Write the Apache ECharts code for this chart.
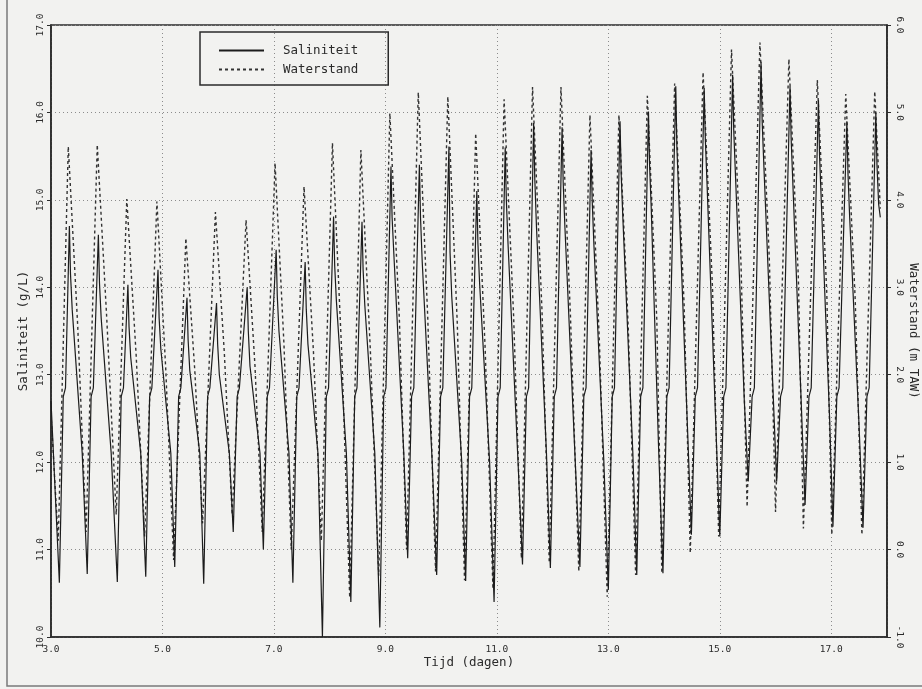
<!DOCTYPE html>
<html>
<head>
<meta charset="utf-8">
<title>Saliniteit en waterstand</title>
<script src="https://cdn.jsdelivr.net/npm/echarts@6/dist/echarts.min.js"></script>
<style>
  html, body { margin: 0; padding: 0; background: #f2f2f0; }
  #chart { width: 922px; height: 689px; }
</style>
</head>
<body>
<div id="chart"></div>
<script>
// Tijdas (dagen) en meetreeksen
const xTicks = [3.0, 5.0, 7.0, 9.0, 11.0, 13.0, 15.0, 17.0];
const salTicks = [10.0, 11.0, 12.0, 13.0, 14.0, 15.0, 16.0, 17.0];
const waterTicks = [-1.0, 0.0, 1.0, 2.0, 3.0, 4.0, 5.0, 6.0];

// Waterstand (m TAW): laagwater, hoogwater, halverwege de eb
const waterDays = [3.00,
  3.13, 3.31, 3.48,   3.63, 3.83, 4.00,   4.17, 4.36, 4.53,   4.68, 4.90, 5.06,
  5.20, 5.42, 5.58,   5.72, 5.95, 6.11,   6.25, 6.50, 6.66,   6.79, 7.02, 7.18,
  7.31, 7.54, 7.71,   7.85, 8.05, 8.22,   8.36, 8.56, 8.73,   8.88, 9.08, 9.25,
  9.38, 9.59, 9.76,   9.90, 10.12, 10.29, 10.42, 10.62, 10.79, 10.93, 11.13, 11.30,
  11.44, 11.64, 11.81, 11.94, 12.15, 12.32, 12.47, 12.67, 12.84, 12.98, 13.19, 13.36,
  13.49, 13.70, 13.87, 13.96, 14.19, 14.36, 14.47, 14.70, 14.87, 14.98, 15.21, 15.38,
  15.49, 15.72, 15.89, 16.00, 16.24, 16.41, 16.50, 16.75, 16.92, 17.01, 17.26, 17.43,
  17.55, 17.78, 17.88];
const waterLevel = [1.55,
  0.10, 4.61, 2.55,   0.20, 4.63, 2.65,   0.40, 4.01, 2.20,   0.15, 3.98, 2.05,
  -0.12, 3.56, 2.05,  0.30, 3.86, 2.25,   0.40, 3.77, 2.10,   0.20, 4.42, 2.35,
  0.00, 4.15, 2.25,   0.10, 4.65, 2.20,   -0.55, 4.57, 2.28,  -0.30, 4.99, 2.65,
  0.00, 5.23, 2.65,   -0.25, 5.18, 2.58,  -0.35, 4.76, 2.30,  -0.45, 5.15, 2.68,
  -0.10, 5.29, 2.73,  -0.15, 5.29, 2.68,  -0.25, 4.97, 2.37,  -0.54, 4.97, 2.50,
  -0.29, 5.19, 2.62,  -0.27, 5.33, 2.80,  -0.04, 5.46, 2.98,  0.15, 5.72, 3.28,
  0.49, 5.80, 3.30,   0.43, 5.61, 3.10,   0.24, 5.37, 2.93,   0.17, 5.21, 2.85,
  0.17, 5.24, 3.90];

// Saliniteit (g/L): per getij laagste waarde, knik bij vloed, top, snelle daling, afname
const salDays = [3.00,
  3.15, 3.22, 3.26, 3.33, 3.35, 3.38, 3.56,
  3.65, 3.72, 3.76, 3.85, 3.87, 3.90, 4.08,
  4.19, 4.26, 4.30, 4.38, 4.40, 4.43, 4.61,
  4.70, 4.77, 4.81, 4.92, 4.94, 4.97, 5.15,
  5.22, 5.29, 5.33, 5.44, 5.46, 5.49, 5.67,
  5.74, 5.81, 5.85, 5.97, 5.99, 6.02, 6.20,
  6.27, 6.34, 6.38, 6.52, 6.54, 6.57, 6.75,
  6.81, 6.88, 6.92, 7.04, 7.06, 7.09, 7.27,
  7.34, 7.41, 7.45, 7.56, 7.58, 7.61, 7.79,
  7.87, 7.94, 7.98, 8.07, 8.09, 8.12, 8.30,
  8.38, 8.45, 8.49, 8.58, 8.60, 8.63, 8.81,
  8.90, 8.97, 9.01, 9.10, 9.12, 9.15, 9.33,
  9.40, 9.47, 9.51, 9.61, 9.63, 9.66, 9.84,
  9.92, 9.99, 10.03, 10.14, 10.16, 10.19, 10.37,
  10.44, 10.51, 10.55, 10.64, 10.66, 10.69, 10.87,
  10.95, 11.02, 11.06, 11.15, 11.17, 11.20, 11.38,
  11.46, 11.53, 11.57, 11.66, 11.68, 11.71, 11.89,
  11.96, 12.03, 12.07, 12.17, 12.19, 12.22, 12.40,
  12.49, 12.56, 12.60, 12.69, 12.71, 12.74, 12.92,
  13.00, 13.07, 13.11, 13.21, 13.23, 13.26, 13.44,
  13.51, 13.58, 13.62, 13.72, 13.74, 13.77, 13.90,
  13.98, 14.05, 14.09, 14.21, 14.23, 14.26, 14.42,
  14.49, 14.56, 14.60, 14.72, 14.74, 14.77, 14.93,
  15.00, 15.07, 15.11, 15.23, 15.25, 15.28, 15.44,
  15.51, 15.58, 15.62, 15.74, 15.76, 15.79, 15.95,
  16.02, 16.09, 16.13, 16.26, 16.28, 16.31, 16.46,
  16.53, 16.60, 16.64, 16.77, 16.79, 16.82, 16.97,
  17.03, 17.10, 17.14, 17.28, 17.30, 17.33, 17.50,
  17.57, 17.64, 17.68, 17.80, 17.82, 17.85, 17.88];
const salinity = [12.70,
  10.62, 12.75, 12.85, 14.70, 14.15, 13.75, 12.10,
  10.72, 12.75, 12.85, 14.60, 14.05, 13.65, 12.10,
  10.63, 12.75, 12.85, 14.03, 13.55, 13.20, 12.10,
  10.69, 12.75, 12.85, 14.20, 13.65, 13.30, 12.10,
  10.80, 12.75, 12.85, 13.88, 13.40, 13.05, 12.10,
  10.61, 12.75, 12.85, 13.82, 13.35, 13.00, 12.10,
  11.20, 12.75, 12.85, 14.00, 13.50, 13.10, 12.10,
  11.00, 12.75, 12.85, 14.43, 13.90, 13.50, 12.10,
  10.62, 12.75, 12.85, 14.29, 13.75, 13.35, 12.10,
  10.00, 12.75, 12.85, 14.81, 14.25, 13.85, 12.10,
  10.40, 12.75, 12.85, 14.75, 14.20, 13.80, 12.10,
  10.11, 12.75, 12.85, 15.38, 14.80, 14.40, 12.10,
  10.90, 12.75, 12.85, 15.40, 14.80, 14.30, 12.00,
  10.71, 12.75, 12.85, 15.61, 14.40, 13.90, 12.00,
  10.64, 12.75, 12.85, 15.10, 14.50, 14.05, 12.00,
  10.40, 12.75, 12.85, 15.60, 15.00, 14.50, 12.00,
  10.83, 12.75, 12.85, 15.88, 15.25, 14.70, 12.10,
  10.79, 12.75, 12.85, 15.83, 15.20, 14.70, 12.10,
  10.80, 12.75, 12.85, 15.57, 15.00, 14.50, 12.00,
  10.54, 12.75, 12.85, 15.90, 15.30, 14.80, 12.10,
  10.71, 12.75, 12.85, 16.01, 15.40, 14.90, 12.20,
  10.73, 12.75, 12.85, 16.30, 15.60, 15.10, 12.40,
  11.17, 12.75, 12.85, 16.28, 15.70, 15.20, 12.40,
  11.15, 12.75, 12.85, 16.43, 15.80, 15.30, 12.70,
  11.78, 12.75, 12.85, 16.58, 15.90, 15.40, 12.90,
  11.78, 12.75, 12.85, 16.30, 15.70, 15.20, 12.70,
  11.51, 12.75, 12.85, 16.14, 15.50, 15.00, 12.50,
  11.26, 12.75, 12.85, 15.90, 15.30, 14.80, 12.40,
  11.25, 12.75, 12.85, 16.00, 15.40, 14.95, 14.80];

const FONT = 'DejaVu Sans Mono';
const INK = '#2b2b2b';
const GRIDCOL = '#8c8c8c';

const chart = echarts.init(document.getElementById('chart'), null, { renderer: 'canvas' });

const fmt = v => v.toFixed(1);

chart.setOption({
  backgroundColor: '#f2f2f0',
  animation: false,
  grid: {
    left: 51, right: 35, top: 25, bottom: 52,
    outerBoundsMode: 'none',
    show: true, borderColor: INK, borderWidth: 1.6, backgroundColor: 'transparent'
  },
  legend: {
    left: 200, top: 32,
    orient: 'vertical',
    padding: [12, 30, 9, 18],
    itemWidth: 45, itemHeight: 10, itemGap: 6,
    borderColor: INK, borderWidth: 1.5,
    itemStyle: { opacity: 0 },
    textStyle: { fontFamily: FONT, fontSize: 12.5, color: INK, padding: [0, 0, 0, 14] },
    data: ['Saliniteit', 'Waterstand']
  },
  xAxis: {
    type: 'value',
    min: xTicks[0], max: 18, interval: 2,
    name: 'Tijd (dagen)', nameLocation: 'middle', nameGap: 19, nameMoveOverlap: false,
    nameTextStyle: { fontFamily: FONT, fontSize: 12.5, color: INK },
    axisLine: { show: true, onZero: false, lineStyle: { color: INK, width: 1.6 } },
    axisTick: { show: false },
    axisLabel: { fontFamily: FONT, fontSize: 9.5, color: INK, margin: 8, showMaxLabel: false,
                 formatter: v => xTicks.includes(v) ? fmt(v) : '' },
    splitLine: { show: true, lineStyle: { color: GRIDCOL, type: [1, 3], width: 1 } }
  },
  yAxis: [
    {
      type: 'value', position: 'left',
      min: salTicks[0], max: salTicks[salTicks.length - 1], interval: 1,
      name: 'Saliniteit (g/L)', nameLocation: 'middle', nameGap: 21, nameRotate: 90,
      nameMoveOverlap: false,
      nameTextStyle: { fontFamily: FONT, fontSize: 12.5, color: INK },
      axisLine: { show: true, onZero: false, lineStyle: { color: INK, width: 1.6 } },
      axisTick: { show: true, inside: false, length: 4, lineStyle: { color: INK } },
      axisLabel: { fontFamily: FONT, fontSize: 9.5, color: INK, rotate: 90, margin: 5, formatter: fmt },
      splitLine: { show: true, lineStyle: { color: GRIDCOL, type: [1, 3], width: 1 } }
    },
    {
      type: 'value', position: 'right',
      min: waterTicks[0], max: waterTicks[waterTicks.length - 1], interval: 1,
      name: 'Waterstand (m TAW)', nameLocation: 'middle', nameGap: 20, nameRotate: -90,
      nameMoveOverlap: false,
      nameTextStyle: { fontFamily: FONT, fontSize: 12.5, color: INK },
      axisLine: { show: true, onZero: false, lineStyle: { color: INK, width: 1.6 } },
      axisTick: { show: true, inside: false, length: 4, lineStyle: { color: INK } },
      axisLabel: { fontFamily: FONT, fontSize: 9.5, color: INK, rotate: -90, margin: 7, formatter: fmt },
      splitLine: { show: false }
    }
  ],
  series: [
    {
      name: 'Saliniteit', type: 'line', yAxisIndex: 0,
      symbol: 'none', smooth: false,
      lineStyle: { color: '#1c1c1c', width: 1.2 },
      itemStyle: { color: '#1c1c1c' },
      data: salDays.map((d, i) => [d, salinity[i]]),
      z: 3
    },
    {
      name: 'Waterstand', type: 'line', yAxisIndex: 1,
      symbol: 'none', smooth: false,
      lineStyle: { color: '#333333', width: 1.4, type: [3, 3] },
      itemStyle: { color: '#333333' },
      data: waterDays.map((d, i) => [d, waterLevel[i]]),
      z: 2
    }
  ],
  graphic: [
    {
      type: 'polyline', silent: true, z: -1,
      shape: { points: [[7, 0], [7, 686], [922, 686]] },
      style: { fill: 'none', stroke: '#7a7a7a', lineWidth: 1.5 }
    }
  ]
});
</script>
</body>
</html>
